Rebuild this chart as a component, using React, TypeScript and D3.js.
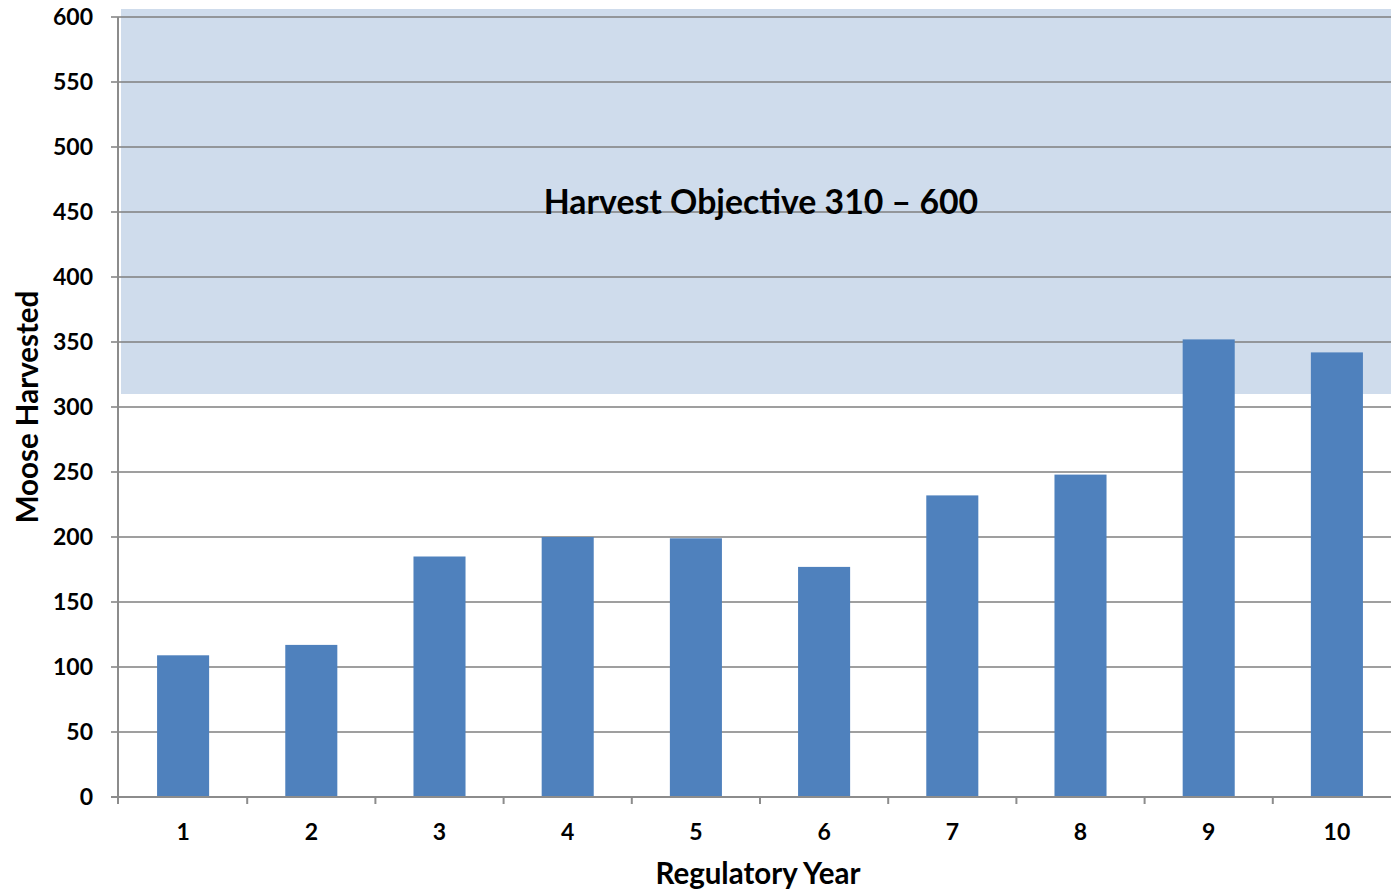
import React, { useEffect, useRef } from 'react';
import * as d3 from 'd3';

const years = ['1', '2', '3', '4', '5', '6', '7', '8', '9', '10'];
const harvested = [109, 117, 185, 200, 199, 177, 232, 248, 352, 342];
const yTicks = [0, 50, 100, 150, 200, 250, 300, 350, 400, 450, 500, 550, 600];
const objective = [310, 600];
const objectiveLabel = 'Harvest Objective 310 \u2013 600';

const WIDTH = 1391;
const HEIGHT = 892;

const App: React.FC = () => {
  const svgRef = useRef<SVGSVGElement>(null);

  useEffect(() => {
    if (!svgRef.current) return;
    const svg = d3.select(svgRef.current);
    svg.selectAll('*').remove();

    // plot area runs a little past the right edge of the picture (cropped original)
    const margin = { top: 17, bottom: 95, left: 119 };
    const innerW = 1282;
    const innerH = HEIGHT - margin.top - margin.bottom;
    const font = 'Lato, Carlito, "Open Sans", sans-serif';

    const x = d3.scaleBand<string>()
      .domain(years)
      .range([0, innerW])
      .paddingInner(0.594)
      .paddingOuter(0.297);

    const y = d3.scaleLinear().domain([0, 600]).range([innerH, 0]);

    const g = svg.append('g').attr('transform', `translate(${margin.left},${margin.top})`);

    // objective band (drawn a bit taller than 600, like the original shape)
    g.append('rect')
      .attr('x', 2)
      .attr('y', y(objective[1]) - 8)
      .attr('width', innerW - 2)
      .attr('height', y(objective[0]) - y(objective[1]) + 8)
      .attr('fill', '#cfdcec');

    // gridlines
    g.selectAll('.grid')
      .data(yTicks.filter(d => d > 0))
      .enter()
      .append('line')
      .attr('x1', -8)
      .attr('x2', innerW)
      .attr('y1', d => y(d))
      .attr('y2', d => y(d))
      .attr('stroke', '#7f7f7f')
      .attr('stroke-opacity', 0.75)
      .attr('stroke-width', 2);

    // bars
    g.selectAll('.bar')
      .data(harvested)
      .enter()
      .append('rect')
      .attr('x', (d, i) => x(years[i]) || 0)
      .attr('y', d => y(d))
      .attr('width', x.bandwidth())
      .attr('height', d => innerH - y(d))
      .attr('fill', '#4f81bd');

    // y axis
    g.append('line')
      .attr('x1', -1).attr('x2', -1)
      .attr('y1', 0).attr('y2', innerH + 7)
      .attr('stroke', '#8c8c8c').attr('stroke-width', 2);

    // x axis
    g.append('line')
      .attr('x1', -8).attr('x2', innerW)
      .attr('y1', innerH).attr('y2', innerH)
      .attr('stroke', '#8c8c8c').attr('stroke-width', 2);

    const step = x.step();
    g.selectAll('.xtick')
      .data(years.slice(1))
      .enter()
      .append('line')
      .attr('x1', d => (x(d) || 0) - (step - x.bandwidth()) / 2)
      .attr('x2', d => (x(d) || 0) - (step - x.bandwidth()) / 2)
      .attr('y1', innerH)
      .attr('y2', innerH + 7)
      .attr('stroke', '#8c8c8c').attr('stroke-width', 2);

    // y tick labels
    g.selectAll('.ylab')
      .data(yTicks)
      .enter()
      .append('text')
      .attr('x', -26)
      .attr('y', d => y(d))
      .attr('dy', '0.36em')
      .attr('text-anchor', 'end')
      .attr('font-family', font)
      .attr('font-weight', 'bold')
      .attr('font-size', 23)
      .attr('fill', '#000')
      .text(d => d);

    // x tick labels
    g.selectAll('.xlab')
      .data(years)
      .enter()
      .append('text')
      .attr('x', d => (x(d) || 0) + x.bandwidth() / 2)
      .attr('y', innerH + 43)
      .attr('text-anchor', 'middle')
      .attr('font-family', font)
      .attr('font-weight', 'bold')
      .attr('font-size', 23)
      .attr('fill', '#000')
      .text(d => d);

    // axis titles
    svg.append('text')
      .attr('x', 758)
      .attr('y', 884)
      .attr('text-anchor', 'middle')
      .attr('font-family', font)
      .attr('font-weight', 'bold')
      .attr('font-size', 29.5)
      .attr('fill', '#000')
      .text('Regulatory Year');

    svg.append('text')
      .attr('transform', `translate(38,${margin.top + y(300)}) rotate(-90)`)
      .attr('text-anchor', 'middle')
      .attr('font-family', font)
      .attr('font-weight', 'bold')
      .attr('font-size', 29.5)
      .attr('fill', '#000')
      .text('Moose Harvested');

    // objective annotation
    g.append('text')
      .attr('x', 761 - margin.left)
      .attr('y', y(450) + 2)
      .attr('text-anchor', 'middle')
      .attr('font-family', font)
      .attr('font-weight', 'bold')
      .attr('font-size', 33.8)
      .attr('fill', '#000')
      .text(objectiveLabel);
  }, []);

  return (
    <div style={{ position: 'fixed', left: 0, top: 0, width: WIDTH, height: HEIGHT, background: '#fff', overflow: 'hidden' }}>
      <svg ref={svgRef} width={WIDTH} height={HEIGHT} style={{ display: 'block' }} />
    </div>
  );
};

export default App;
